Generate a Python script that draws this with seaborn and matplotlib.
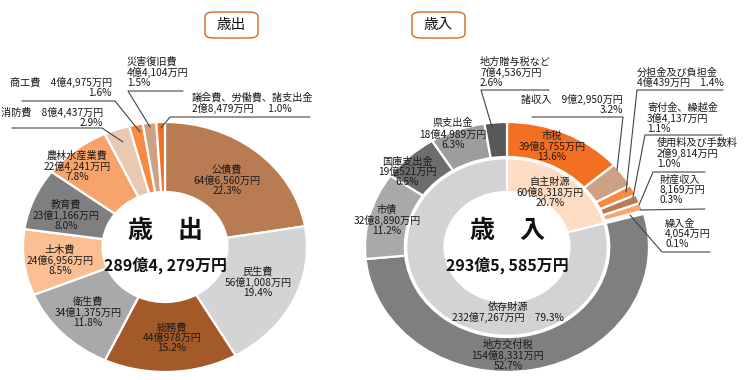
import matplotlib
matplotlib.use("Agg")
import matplotlib.pyplot as plt
import seaborn as sns
from matplotlib.lines import Line2D
from matplotlib.patches import FancyBboxPatch
from matplotlib import font_manager

sns.set_theme(style="white")
plt.rcParams["font.family"] = ["Noto Sans CJK JP", "DejaVu Sans"]

W, H = 751, 380

# 歳出 (万円)
out_names = ["公債費", "民生費", "総務費", "衛生費", "土木費", "教育費",
             "農林水産業費", "消防費", "商工費", "災害復旧費", "議会費、労働費、諸支出金"]
out_amounts = ["64億6,560万円", "56億1,008万円", "44億978万円", "34億1,375万円",
               "24億6,956万円", "23億1,166万円", "22億4,241万円", "8億4,437万円",
               "4億4,975万円", "4億4,104万円", "2億8,479万円"]
out_values = [646560, 561008, 440978, 341375, 246956, 231166, 224241, 84437, 44975, 44104, 28479]
out_pct = ["22.3%", "19.4%", "15.2%", "11.8%", "8.5%", "8.0%", "7.8%", "2.9%", "1.6%", "1.5%", "1.0%"]
out_colors = ["#b97c52", "#d4d4d6", "#a35a28", "#a9a9ac", "#fbbd92", "#7f7f82",
              "#f6a46c", "#e9c9b2", "#f68b43", "#cda184", "#f37022"]

# 歳入 outer ring (万円)
in_names = ["市税", "諸収入", "分担金及び負担金", "寄付金、繰越金", "使用料及び手数料",
            "財産収入", "繰入金", "地方交付税", "市債", "国庫支出金", "県支出金", "地方贈与税など"]
in_amounts = ["39億8,755万円", "9億2,950万円", "4億439万円", "3億4,137万円", "2億9,814万円",
              "8,169万円", "4,054万円", "154億8,331万円", "32億8,890万円", "19億521万円",
              "18億4,989万円", "7億4,536万円"]
in_values = [398755, 92950, 40439, 34137, 29814, 8169, 4054, 1548331, 328890, 190521, 184989, 74536]
in_pct = ["13.6%", "3.2%", "1.4%", "1.1%", "1.0%", "0.3%", "0.1%", "52.7%", "11.2%", "6.5%", "6.3%", "2.6%"]
in_colors = ["#f37022", "#cda184", "#f68b43", "#b97c52", "#f9a66c", "#f68b43", "#fbc59b",
             "#7f7f82", "#a9a9ac", "#6d6d70", "#9d9da0", "#58585b"]

# 歳入 inner ring
grp_names = ["自主財源", "依存財源"]
grp_values = [608318, 2327267]
grp_amounts = ["60億8,318万円", "232億7,267万円"]
grp_pct = ["20.7%", "79.3%"]
grp_colors = ["#fddcc4", "#d3d3d5"]

out_total = "289億4, 279万円"
in_total = "293億5, 585万円"

# narrow font for the big totals, if there is one
installed = {f.name for f in font_manager.fontManager.ttflist}
total_family = ["Noto Sans CJK JP", "DejaVu Sans"]
if "Liberation Sans Narrow" in installed:
    total_family = ["Liberation Sans Narrow", "Noto Sans CJK JP"]

fig = plt.figure(figsize=(W / 100, H / 100), dpi=100)
fig.patch.set_facecolor("white")


def fxy(x, y):
    return x / W, 1 - y / H


def donut_axes(cx, cy, rx, ry):
    ax = fig.add_axes([(cx - rx) / W, 1 - (cy + ry) / H, 2 * rx / W, 2 * ry / H])
    return ax


def finish(ax):
    ax.set_aspect("auto")
    ax.set_xlim(-1, 1)
    ax.set_ylim(-1, 1)
    ax.axis("off")


wprops = dict(edgecolor="white", linewidth=1.6)

# left donut
axl = donut_axes(165, 247, 142, 125)
axl.pie(out_values, colors=out_colors, startangle=90, counterclock=False,
        radius=1, wedgeprops=dict(width=0.56, **wprops))
finish(axl)

# right donut
axr = donut_axes(507, 247, 142, 125)
axr.pie(in_values, colors=in_colors, startangle=90, counterclock=False,
        radius=1, wedgeprops=dict(width=0.28, **wprops))
axr.pie(grp_values, colors=grp_colors, startangle=90, counterclock=False,
        radius=0.71, wedgeprops=dict(width=0.27, **wprops))
finish(axr)

FS = 7.3
TXT = "#1a1a1a"


def label(x, y, s, ha="center"):
    fig.text(*fxy(x, y), s, ha=ha, va="center", fontsize=FS, color=TXT,
             linespacing=1.0, multialignment=ha)


def leader(pts, color="#444444"):
    xs = [p[0] / W for p in pts]
    ys = [1 - p[1] / H for p in pts]
    fig.add_artist(Line2D(xs, ys, color=color, linewidth=0.8))


def three(i, names, amounts, pct):
    return f"{names[i]}\n{amounts[i]}\n{pct[i]}"


# left labels inside wedges
for i, (x, y) in enumerate([(227, 180), (258, 282), (172, 338), (88, 312),
                            (60, 260), (66, 215), (77, 166)]):
    label(x, y, three(i, out_names, out_amounts, out_pct))

label(103, 117, f"{out_names[7]}　{out_amounts[7]}\n{out_pct[7]}", ha="right")
label(112, 87, f"{out_names[8]}　{out_amounts[8]}\n{out_pct[8]}", ha="right")
label(127, 72, three(9, out_names, out_amounts, out_pct), ha="left")
label(192, 103, f"{out_names[10]}\n{out_amounts[10]}　  {out_pct[10]}", ha="left")

leader([(12, 128), (102, 128), (123, 142)])
leader([(22, 101), (115, 101), (140, 132)])
leader([(183, 91), (128, 91), (150, 127)])
leader([(310, 117), (170, 117), (161, 128)])

# right labels
label(552, 146, three(0, in_names, in_amounts, in_pct))
label(508, 355, three(7, in_names, in_amounts, in_pct))
label(387, 220, three(8, in_names, in_amounts, in_pct))
label(407, 172, three(9, in_names, in_amounts, in_pct))
label(453, 134, three(10, in_names, in_amounts, in_pct))
label(480, 72, three(11, in_names, in_amounts, in_pct), ha="left")
label(623, 104, f"{in_names[1]}　{in_amounts[1]}\n{in_pct[1]}", ha="right")
label(637, 78, f"{in_names[2]}\n{in_amounts[2]}　{in_pct[2]}", ha="left")
label(647, 118, three(3, in_names, in_amounts, in_pct), ha="left")
label(657, 153, three(4, in_names, in_amounts, in_pct), ha="left")
label(660, 190, three(5, in_names, in_amounts, in_pct), ha="left")
label(665, 234, three(6, in_names, in_amounts, in_pct), ha="left")

label(550, 192, three(0, grp_names, grp_amounts, grp_pct))
label(508, 312, f"{grp_names[1]}\n{grp_amounts[1]}　{grp_pct[1]}")

leader([(549, 90), (481, 90), (492, 127)])
leader([(532, 117), (623, 117), (617, 170)])
leader([(723, 90), (637, 90), (626, 192)])
leader([(722, 135), (645, 135), (633, 197)])
leader([(705, 172), (653, 172), (639, 205)])
leader([(705, 209), (640, 210)])
leader([(710, 252), (662, 252), (630, 215)])

# center titles
total_size = 14 if total_family[0] == "Liberation Sans Narrow" else 11.5
for cx, head, total in [(166, "歳　出", out_total), (507, "歳　入", in_total)]:
    fig.text(*fxy(cx, 231), head, ha="center", va="center", fontsize=18,
             fontweight="bold", color="#111111")
    fig.text(*fxy(cx, 265), total, ha="center", va="center", fontsize=total_size,
             fontweight="bold", color="#111111", family=total_family)

# header boxes
for x0, s in [(205, "歳出"), (412, "歳入")]:
    bx, by = fxy(x0, 38)
    box = FancyBboxPatch((bx, by), 53 / W, 26 / H, transform=fig.transFigure,
                         boxstyle="round,pad=0,rounding_size=0.012",
                         facecolor="white", edgecolor="#d2691e", linewidth=1.0)
    fig.add_artist(box)
    fig.text(*fxy(x0 + 26.5, 25), s, ha="center", va="center", fontsize=10.5, color="#111111")

fig.savefig("out.png", dpi=100, facecolor="white")
